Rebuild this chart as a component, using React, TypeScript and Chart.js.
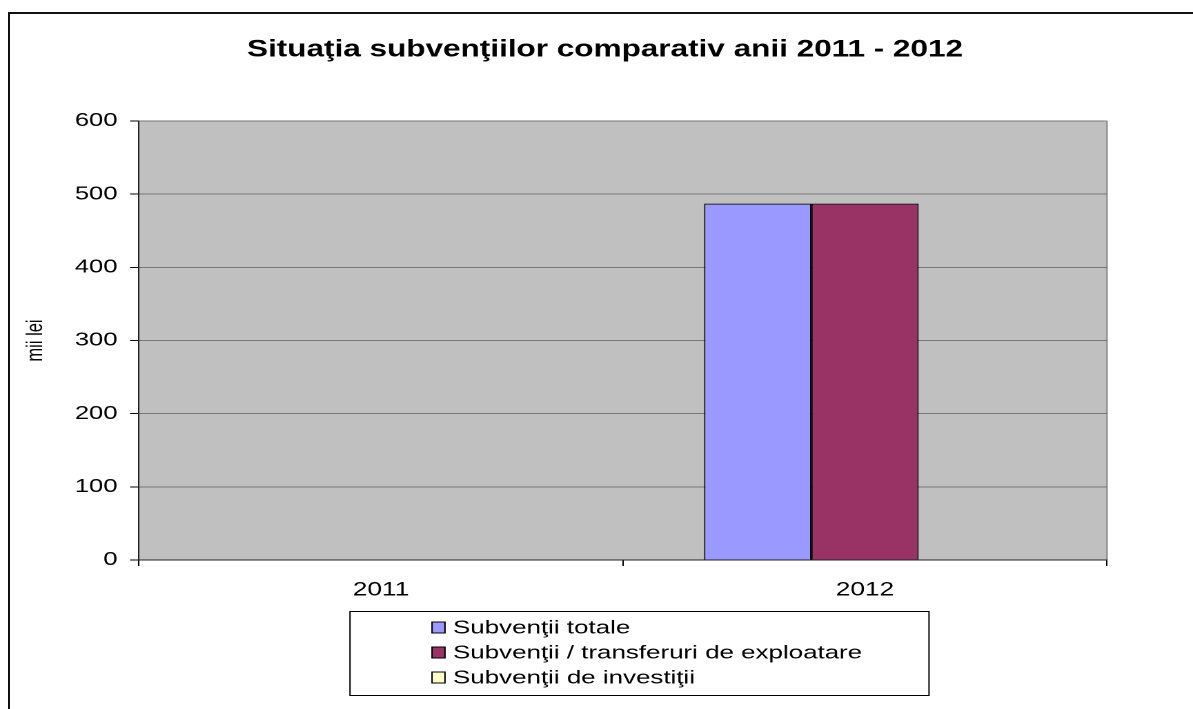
import React, { useEffect, useRef } from "react";
import { Chart, registerables } from "chart.js";

Chart.register(...registerables);

// ---- data ----
const categories = ["2011", "2012"];
const seriesLabels = [
  "Subvenţii totale",
  "Subvenţii / transferuri de exploatare",
  "Subvenţii de investiţii",
];
const subventiiTotale = [0, 487];
const subventiiExploatare = [0, 487];
const subventiiInvestitii = [0, 0];
const yMin = 0;
const yMax = 600;
const yStep = 100;
const chartTitle = "Situaţia subvenţiilor comparativ anii 2011 - 2012";
const yAxisTitle = "mii lei";

// ---- style ----
const SX = 1.38; // horizontal stretch of the original picture
const W = 865;
const H = 709;
const FONT = "'Liberation Sans', Arial, Helvetica, sans-serif";
const seriesColors = ["#9999FF", "#993366", "#FFFFCC"];

const plotBgPlugin = {
  id: "plotBg",
  beforeDraw(chart: any) {
    const { ctx, chartArea } = chart;
    ctx.save();
    ctx.fillStyle = "#C0C0C0";
    ctx.fillRect(chartArea.left, chartArea.top, chartArea.right - chartArea.left, chartArea.bottom - chartArea.top);
    ctx.strokeStyle = "#808080";
    ctx.lineWidth = 1;
    ctx.beginPath();
    ctx.moveTo(chartArea.right, chartArea.top);
    ctx.lineTo(chartArea.right, chartArea.bottom);
    ctx.stroke();
    ctx.restore();
  },
};

const titlePlugin = {
  id: "xlTitle",
  afterDraw(chart: any) {
    const ctx = chart.ctx;
    ctx.save();
    ctx.font = `bold 24px ${FONT}`;
    ctx.fillStyle = "#000";
    ctx.textAlign = "center";
    ctx.textBaseline = "middle";
    const targetW = 716 / SX;
    const k = targetW / ctx.measureText(chartTitle).width;
    const cx = 605 / SX;
    ctx.translate(cx, 50);
    ctx.scale(k, 1);
    ctx.fillText(chartTitle, 0, 0);
    ctx.restore();
  },
};

const legendPlugin = {
  id: "xlLegend",
  afterDraw(chart: any) {
    const ctx = chart.ctx;
    const bx = 350 / SX;
    const by = 611.5;
    const bw = 579 / SX;
    const bh = 84;
    ctx.save();
    ctx.fillStyle = "#fff";
    ctx.fillRect(bx, by, bw, bh);
    ctx.strokeStyle = "#000";
    ctx.lineWidth = 1;
    ctx.strokeRect(bx, by, bw, bh);
    chart.data.datasets.forEach((ds: any, i: number) => {
      const cy = 627.5 + 25 * i;
      const sx = 432 / SX;
      const sw = 13 / SX;
      ctx.fillStyle = ds.backgroundColor;
      ctx.fillRect(sx, cy - 5.5, sw, 11);
      ctx.strokeStyle = "#000";
      ctx.lineWidth = 1;
      ctx.strokeRect(sx, cy - 5.5, sw, 11);
      ctx.fillStyle = "#000";
      ctx.font = `18.8px ${FONT}`;
      ctx.textAlign = "left";
      ctx.textBaseline = "middle";
      ctx.fillText(ds.label, 453 / SX, cy + 1);
    });
    ctx.restore();
  },
};

export default function App() {
  const ref = useRef<HTMLCanvasElement | null>(null);

  useEffect(() => {
    if (!ref.current) return;
    const values = [subventiiTotale, subventiiExploatare, subventiiInvestitii];
    const chart = new Chart(ref.current, {
      type: "bar",
      data: {
        labels: categories,
        datasets: seriesLabels.map((label, i) => ({
          label,
          data: values[i],
          backgroundColor: seriesColors[i],
          borderColor: "#000",
          borderWidth: 1,
          categoryPercentage: 0.665,
          barPercentage: 1,
        })),
      },
      options: {
        animation: false,
        responsive: false,
        devicePixelRatio: 2,
        layout: {
          padding: { top: 121, left: 0, right: W - 1107 / SX, bottom: 0 },
        },
        plugins: {
          legend: { display: false },
          title: { display: false },
          tooltip: { enabled: false },
        },
        scales: {
          x: {
            grid: {
              display: true,
              drawOnChartArea: false,
              drawTicks: true,
              tickLength: 6,
              tickColor: "#000",
              offset: true,
            },
            border: { display: true, color: "#222", width: 1 },
            ticks: {
              font: { family: FONT, size: 19 },
              color: "#000",
              padding: 13,
              maxRotation: 0,
            },
            afterFit: (s: any) => {
              s.height = 149;
            },
          },
          y: {
            min: yMin,
            max: yMax,
            ticks: {
              stepSize: yStep,
              font: { family: FONT, size: 18.5 },
              color: "#000",
              padding: 9.1,
            },
            grid: {
              color: "#767676",
              lineWidth: 1,
              tickColor: "#000",
              tickLength: 6.5,
              drawTicks: true,
            },
            border: { display: true, color: "#222", width: 1 },
            title: {
              display: true,
              text: yAxisTitle,
              font: { family: FONT, size: 16.5 },
              color: "#000",
              padding: { top: 16, bottom: 0 },
            },
            afterFit: (s: any) => {
              s.width = 139 / SX;
            },
          },
        },
      },
      plugins: [plotBgPlugin, titlePlugin, legendPlugin],
    });
    return () => chart.destroy();
  }, []);

  return (
    <div
      style={{
        position: "absolute",
        left: 0,
        top: 0,
        width: 1193,
        height: 709,
        overflow: "hidden",
        background: "#fff",
      }}
    >
      <div
        style={{
          position: "absolute",
          left: 8,
          top: 12,
          width: 2000,
          height: 2000,
          borderLeft: "2px solid #111",
          borderTop: "2px solid #111",
        }}
      />
      <canvas
        ref={ref}
        width={W}
        height={H}
        style={{
          position: "absolute",
          left: 0,
          top: 0,
          width: `${W}px`,
          height: `${H}px`,
          transform: `scaleX(${SX})`,
          transformOrigin: "0 0",
        }}
      />
    </div>
  );
}
